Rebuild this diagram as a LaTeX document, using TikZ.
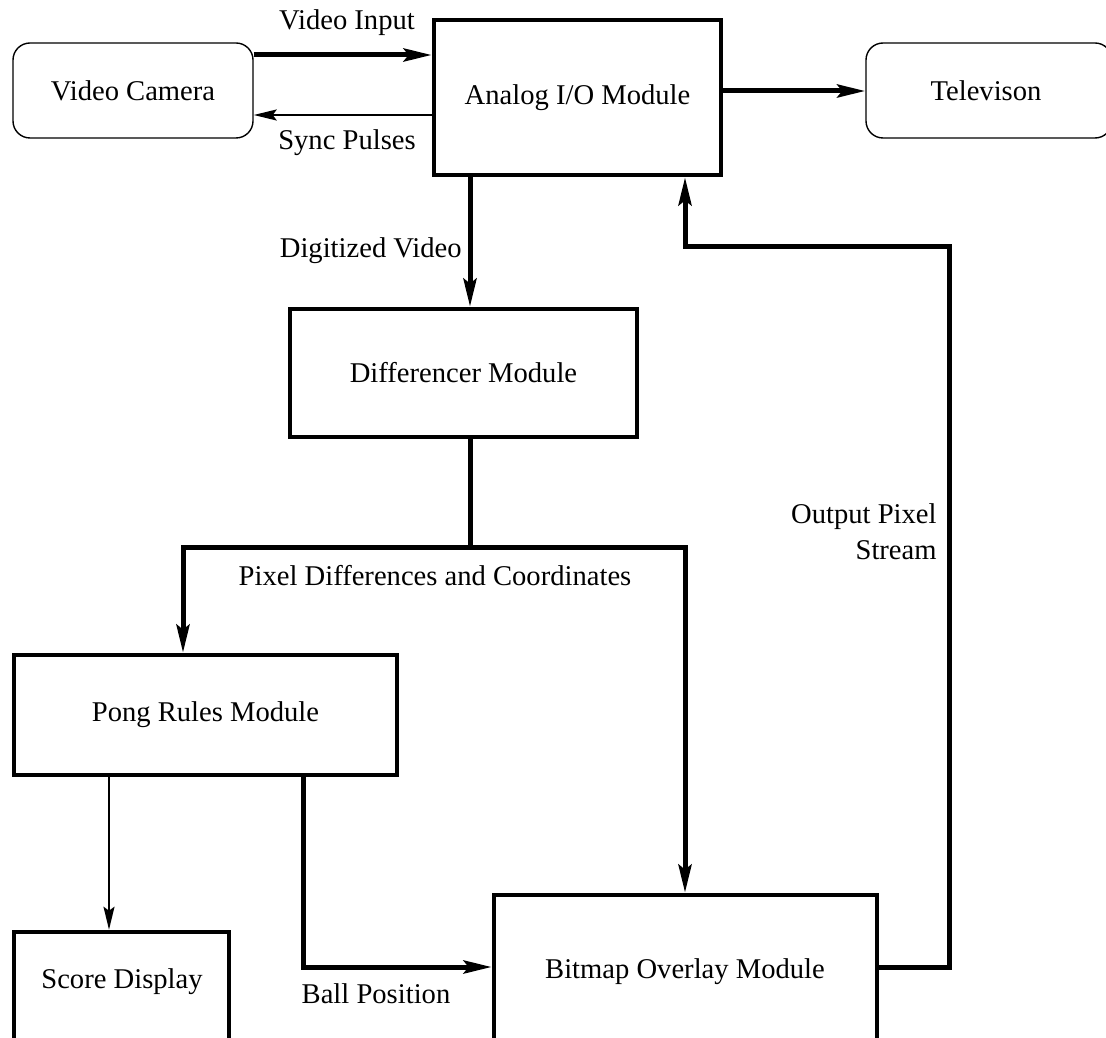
\documentclass[tikz,border=0pt]{standalone}
\usepackage{fontspec}
\setmainfont{Liberation Serif}
\usetikzlibrary{arrows.meta}

\tikzset{
  txt/.style={font=\fontsize{14.3pt}{18pt}\selectfont, inner sep=0pt},
  modbox/.style={draw, line width=2.3pt, rectangle, inner sep=0pt, txt},
  devbox/.style={draw, line width=0.7pt, rectangle, rounded corners=8.5pt, inner sep=0pt, txt},
  bigline/.style={line width=2.5pt},
  bigarrow/.style={bigline, -{Stealth[length=14pt, width=6.5pt, inset=2.5pt]}},
  smallarrow/.style={line width=1pt, -{Stealth[length=11.5pt, width=5.5pt, inset=2pt]}},
  lbl/.style={txt}
}

\begin{document}
\begin{tikzpicture}[x=0.5pt, y=-0.5pt]
  \useasboundingbox (0,0) rectangle (1106,1037);
  \clip (0,0) rectangle (1106,1037);

  % devices and modules
  \node[devbox, minimum width=120pt, minimum height=47.5pt] (cam) at (133,90.5) {Video Camera};
  \node[modbox, minimum width=143.5pt, minimum height=77.5pt] (analog) at (577.5,97.5) {Analog I/O Module};
  \node[devbox, minimum width=123pt, minimum height=47.5pt] (tv) at (989,90.5) {};
  \node[txt] (tvtext) at (986,91) {Televison};
  \node[modbox, minimum width=173.5pt, minimum height=64pt] (diff) at (463.5,373) {Differencer Module};
  \node[modbox, minimum width=191.5pt, minimum height=60pt] (pong) at (205.5,715) {Pong Rules Module};
  \node[modbox, minimum width=107.5pt, minimum height=75pt] (score) at (121.5,1007) {};
  \node[txt] (scoretext) at (122,982) {Score Display};
  \node[modbox, minimum width=191.5pt, minimum height=90pt] (bitmap) at (685.5,985) {};
  \node[txt] (bitmaptext) at (685,972) {Bitmap Overlay Module};

  % routing points
  \coordinate (vin) at (0,55);
  \coordinate (syn) at (0,115);
  \coordinate (tvl) at (0,91);
  \coordinate (dvx) at (470,0);
  \coordinate (split) at (470,547);
  \coordinate (splitL) at (183,547);
  \coordinate (splitR) at (685,547);
  \coordinate (scorex) at (109,0);
  \coordinate (ballx) at (303,0);
  \coordinate (bally) at (0,967);
  \coordinate (retR) at (949,247);
  \coordinate (retL) at (685,247);

  % connectors
  \draw[bigarrow] (cam.east |- vin) -- (analog.west |- vin);
  \draw[smallarrow] (analog.west |- syn) -- (cam.east |- syn);
  \draw[bigarrow] (analog.east |- tvl) -- (tv.west |- tvl);
  \draw[bigarrow] (analog.south -| dvx) -- (diff.north -| dvx);
  \draw[bigline] (diff.south -| dvx) -- (split);
  \draw[bigline, {Stealth[length=14pt, width=6.5pt, inset=2.5pt]}-{Stealth[length=14pt, width=6.5pt, inset=2.5pt]}]
    (pong.north -| splitL) -- (splitL) -- (splitR) -- (bitmap.north -| splitR);
  \draw[smallarrow] (pong.south -| scorex) -- (score.north -| scorex);
  \draw[bigarrow] (pong.south -| ballx) -- (ballx |- bally) -- (bitmap.west |- bally);
  \draw[bigarrow] (bitmap.east |- bally) -- (retR |- bally) -- (retR) -- (retL) -- (analog.south -| retL);

  % connector labels
  \node[lbl] (lvi) at (347,23) {Video Input};
  \node[lbl] (lsp) at (347,143) {Sync Pulses};
  \node[lbl, anchor=east] (ldv) at (462,251) {Digitized Video};
  \node[lbl] (lpd) at (435,576) {Pixel Differences and Coordinates};
  \node[lbl, anchor=east, align=right] (lop) at (937,532) {Output Pixel\\Stream};
  \node[lbl] (lbp) at (376,994) {Ball Position};
\end{tikzpicture}
\end{document}
